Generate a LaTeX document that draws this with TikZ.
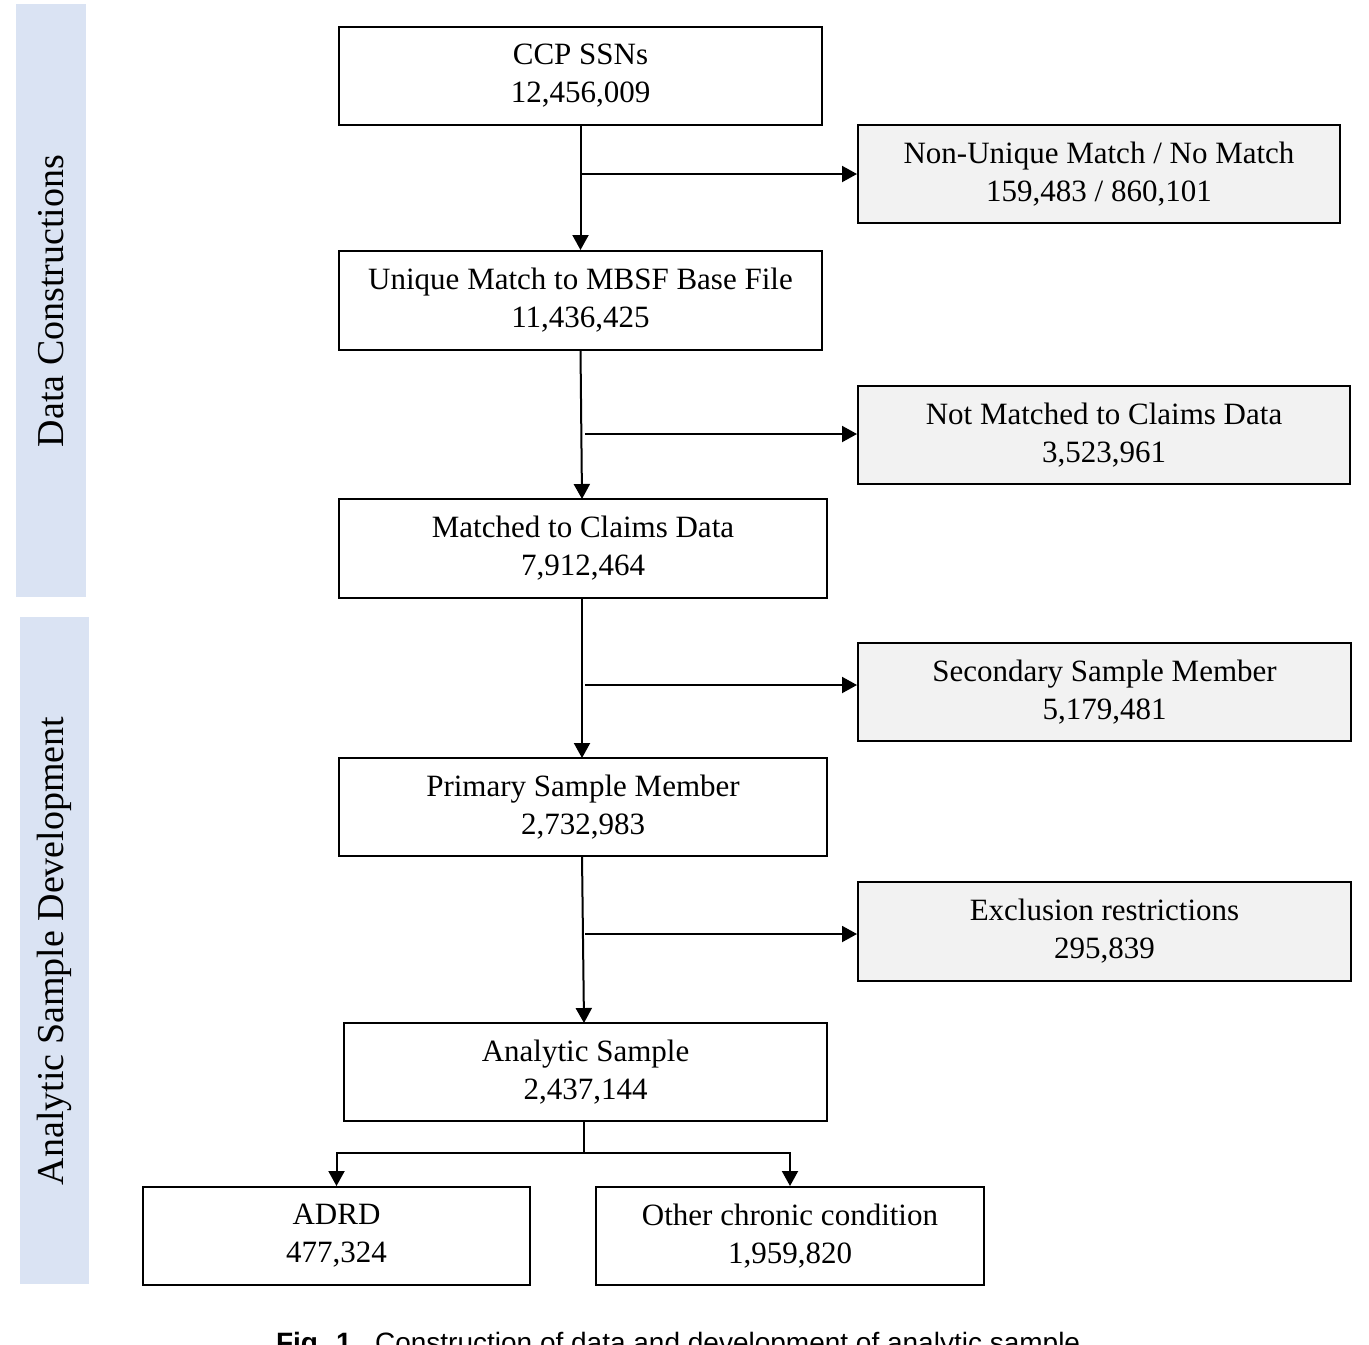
\documentclass[tikz,border=0pt]{standalone}
\usepackage{fontspec}
\setmainfont{Liberation Serif}
\newfontfamily\capfont{Liberation Sans}
\usetikzlibrary{arrows.meta}
\definecolor{sidebar}{RGB}{218,227,243}
\definecolor{greybox}{RGB}{242,242,242}
\tikzset{
  mainbox/.style={draw=black, line width=1pt, fill=white, align=center, inner sep=0pt,
    font=\fontsize{15.5}{19}\selectfont},
  sidebox/.style={mainbox, fill=greybox},
  conn/.style={line width=1pt, -{Triangle[length=7.5pt,width=8pt]}},
  plain/.style={line width=1pt},
  barlabel/.style={rotate=90, font=\fontsize{19}{22}\selectfont},
}
\begin{document}
\begin{tikzpicture}[x=0.5pt,y=-0.5pt]
\useasboundingbox (0,0) rectangle (1369,1344);
\begin{scope}
\clip (0,0) rectangle (1369,1344);
% side bars
\fill[sidebar] (16,4) rectangle (86,597);
\fill[sidebar] (20,617) rectangle (89,1284);
\node[barlabel] (lab1) at (51,301) {Data Constructions};
\node[barlabel] (lab2) at (54,951) {Analytic Sample Development};

% main boxes
\node[mainbox, minimum width=241.5pt, minimum height=49pt] (ccp) at (580.5,76) {CCP SSNs\\12,456,009};
\node[mainbox, minimum width=241.5pt, minimum height=49.5pt] (uniq) at (580.5,300.5) {Unique Match to MBSF Base File\\11,436,425};
\node[mainbox, minimum width=244pt, minimum height=49.5pt] (match) at (583,548.5) {Matched to Claims Data\\7,912,464};
\node[mainbox, minimum width=244pt, minimum height=49pt] (prim) at (583,807) {Primary Sample Member\\2,732,983};
\node[mainbox, minimum width=241.5pt, minimum height=49pt] (anal) at (585.5,1072) {Analytic Sample\\2,437,144};
\node[mainbox, minimum width=193.5pt, minimum height=49pt] (adrd) at (336.5,1236) {ADRD\\477,324};
\node[mainbox, minimum width=194pt, minimum height=49pt] (other) at (790,1236) {Other chronic condition\\1,959,820};

% side boxes
\node[sidebox, minimum width=241pt, minimum height=49pt] (nonu) at (1099,174) {Non-Unique Match / No Match\\159,483 / 860,101};
\node[sidebox, minimum width=246pt, minimum height=49pt] (notm) at (1104,435) {Not Matched to Claims Data\\3,523,961};
\node[sidebox, minimum width=246.5pt, minimum height=49pt] (sec) at (1104.5,692) {Secondary Sample Member\\5,179,481};
\node[sidebox, minimum width=246.5pt, minimum height=49.5pt] (excl) at (1104.5,931.5) {Exclusion restrictions\\295,839};

% branch points
\coordinate (b1) at (580,174);
\coordinate (b2) at (585,434);
\coordinate (b3) at (585,685);
\coordinate (b4) at (585,934);
\coordinate (split) at (584,1153);

% vertical flow
\draw[conn] (ccp.south) -- (uniq.north);
\draw[conn] (580.5,350) -- (582,499);
\draw[conn] (582,598) -- (582,758);
\draw[conn] (582,856) -- (584,1023);

% side branches
\draw[conn] (b1) -- (b1 -| nonu.west);
\draw[conn] (b2) -- (b2 -| notm.west);
\draw[conn] (b3) -- (b3 -| sec.west);
\draw[conn] (b4) -- (b4 -| excl.west);

% split
\draw[plain] (anal.south -| split) -- (split);
\draw[conn] (split) -| (adrd.north);
\draw[conn] (split) -| (other.north);

% caption (cut off at page edge, as in the reference)
\node[font=\capfont\fontsize{14}{16}\selectfont, anchor=base] (cap) at (682,1352) {\textbf{Fig. 1.}\ \ Construction of data and development of analytic sample.};
\end{scope}
\end{tikzpicture}
\end{document}
